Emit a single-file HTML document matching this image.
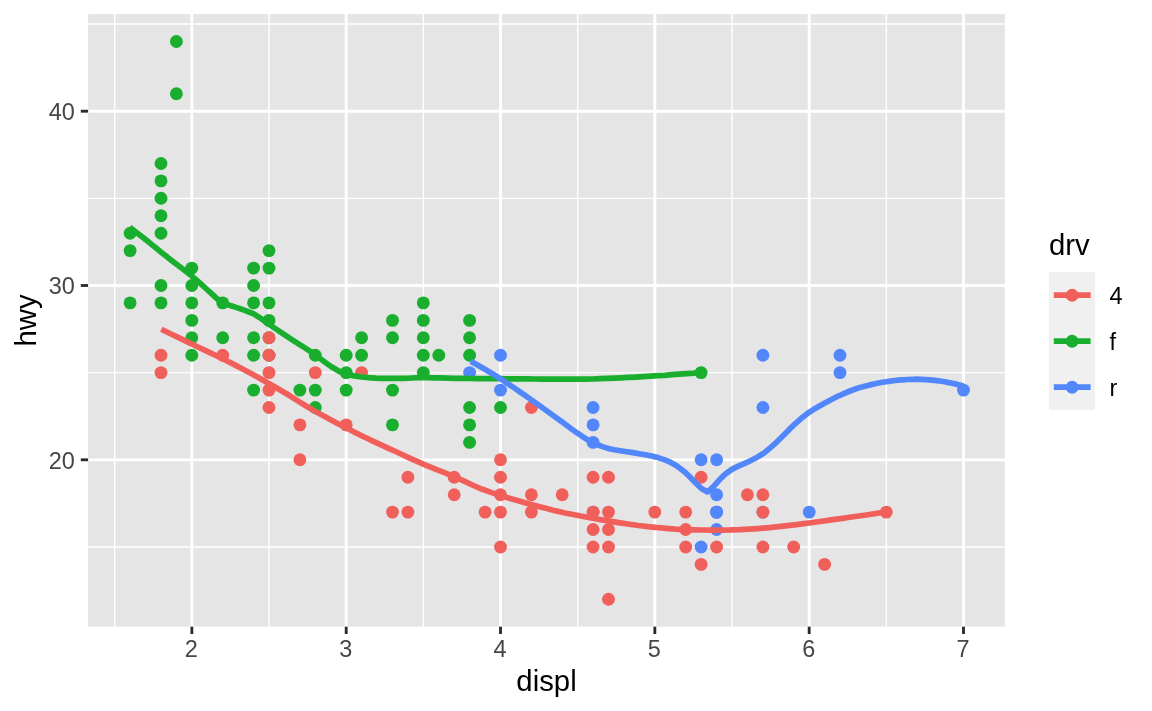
<!DOCTYPE html>
<html><head><meta charset="utf-8"><title>displ vs hwy by drv</title>
<style>
html,body{margin:0;padding:0;background:#fff;}
svg{display:block;}
text{font-family:"Liberation Sans",Arial,Helvetica,sans-serif;}
.tick{font-size:23.47px;fill:#464646;}
.title{font-size:29.33px;fill:#000;}
.key{font-size:23.47px;fill:#000;}
</style></head><body>
<svg width="1152" height="711" viewBox="0 0 1152 711">
<rect x="0" y="0" width="1152" height="711" fill="#fff"/>
<rect x="88.1" y="14.05" width="916.8" height="612.6" fill="#E5E5E5"/>
<g stroke="#fff" stroke-width="1.42" fill="none" opacity="1">
<line x1="88.1" x2="1004.87" y1="546.95" y2="546.95"/>
<line x1="88.1" x2="1004.87" y1="372.65" y2="372.65"/>
<line x1="88.1" x2="1004.87" y1="198.35" y2="198.35"/>
<line x1="88.1" x2="1004.87" y1="24.05" y2="24.05"/>
<line y1="14.05" y2="626.67" x1="114.68" x2="114.68"/>
<line y1="14.05" y2="626.67" x1="269.01" x2="269.01"/>
<line y1="14.05" y2="626.67" x1="423.35" x2="423.35"/>
<line y1="14.05" y2="626.67" x1="577.68" x2="577.68"/>
<line y1="14.05" y2="626.67" x1="732.01" x2="732.01"/>
<line y1="14.05" y2="626.67" x1="886.34" x2="886.34"/>
</g><g stroke="#fff" stroke-width="2.85" fill="none">
<line x1="88.1" x2="1004.87" y1="459.80" y2="459.80"/>
<line x1="88.1" x2="1004.87" y1="285.50" y2="285.50"/>
<line x1="88.1" x2="1004.87" y1="111.20" y2="111.20"/>
<line y1="14.05" y2="626.67" x1="191.85" x2="191.85"/>
<line y1="14.05" y2="626.67" x1="346.18" x2="346.18"/>
<line y1="14.05" y2="626.67" x1="500.51" x2="500.51"/>
<line y1="14.05" y2="626.67" x1="654.84" x2="654.84"/>
<line y1="14.05" y2="626.67" x1="809.17" x2="809.17"/>
<line y1="14.05" y2="626.67" x1="963.50" x2="963.50"/>
</g>
<g><circle cx="593.1" cy="512.1" r="6.45" fill="#5286FB"/><circle cx="716.6" cy="512.1" r="6.45" fill="#F15F5B"/><circle cx="762.9" cy="512.1" r="6.45" fill="#5286FB"/></g>
<g fill="#19AE2E">
<circle cx="130.1" cy="233.2" r="6.45"/>
<circle cx="130.1" cy="250.6" r="6.45"/>
<circle cx="130.1" cy="302.9" r="6.45"/>
<circle cx="161.0" cy="163.5" r="6.45"/>
<circle cx="161.0" cy="180.9" r="6.45"/>
<circle cx="161.0" cy="198.3" r="6.45"/>
<circle cx="161.0" cy="215.8" r="6.45"/>
<circle cx="161.0" cy="233.2" r="6.45"/>
<circle cx="161.0" cy="285.5" r="6.45"/>
<circle cx="161.0" cy="302.9" r="6.45"/>
<circle cx="176.4" cy="41.5" r="6.45"/>
<circle cx="176.4" cy="93.8" r="6.45"/>
<circle cx="191.8" cy="268.1" r="6.45"/>
<circle cx="191.8" cy="285.5" r="6.45"/>
<circle cx="191.8" cy="302.9" r="6.45"/>
<circle cx="191.8" cy="320.4" r="6.45"/>
<circle cx="191.8" cy="337.8" r="6.45"/>
<circle cx="191.8" cy="355.2" r="6.45"/>
<circle cx="222.7" cy="302.9" r="6.45"/>
<circle cx="222.7" cy="337.8" r="6.45"/>
<circle cx="253.6" cy="268.1" r="6.45"/>
<circle cx="253.6" cy="285.5" r="6.45"/>
<circle cx="253.6" cy="302.9" r="6.45"/>
<circle cx="253.6" cy="337.8" r="6.45"/>
<circle cx="253.6" cy="355.2" r="6.45"/>
<circle cx="253.6" cy="390.1" r="6.45"/>
<circle cx="269.0" cy="250.6" r="6.45"/>
<circle cx="269.0" cy="268.1" r="6.45"/>
<circle cx="269.0" cy="302.9" r="6.45"/>
<circle cx="269.0" cy="320.4" r="6.45"/>
<circle cx="269.0" cy="337.8" r="6.45"/>
<circle cx="269.0" cy="355.2" r="6.45"/>
<circle cx="299.9" cy="390.1" r="6.45"/>
<circle cx="315.3" cy="355.2" r="6.45"/>
<circle cx="315.3" cy="390.1" r="6.45"/>
<circle cx="315.3" cy="407.5" r="6.45"/>
<circle cx="346.2" cy="355.2" r="6.45"/>
<circle cx="346.2" cy="372.6" r="6.45"/>
<circle cx="346.2" cy="390.1" r="6.45"/>
<circle cx="361.6" cy="337.8" r="6.45"/>
<circle cx="361.6" cy="355.2" r="6.45"/>
<circle cx="392.5" cy="320.4" r="6.45"/>
<circle cx="392.5" cy="337.8" r="6.45"/>
<circle cx="392.5" cy="390.1" r="6.45"/>
<circle cx="392.5" cy="424.9" r="6.45"/>
<circle cx="423.3" cy="302.9" r="6.45"/>
<circle cx="423.3" cy="320.4" r="6.45"/>
<circle cx="423.3" cy="337.8" r="6.45"/>
<circle cx="423.3" cy="355.2" r="6.45"/>
<circle cx="423.3" cy="372.6" r="6.45"/>
<circle cx="438.8" cy="355.2" r="6.45"/>
<circle cx="469.6" cy="320.4" r="6.45"/>
<circle cx="469.6" cy="337.8" r="6.45"/>
<circle cx="469.6" cy="355.2" r="6.45"/>
<circle cx="469.6" cy="407.5" r="6.45"/>
<circle cx="469.6" cy="424.9" r="6.45"/>
<circle cx="469.6" cy="442.4" r="6.45"/>
<circle cx="500.5" cy="407.5" r="6.45"/>
<circle cx="701.1" cy="372.6" r="6.45"/>
</g>
<g fill="#5286FB">
<circle cx="469.6" cy="372.6" r="6.45"/>
<circle cx="500.5" cy="355.2" r="6.45"/>
<circle cx="500.5" cy="390.1" r="6.45"/>
<circle cx="593.1" cy="407.5" r="6.45"/>
<circle cx="593.1" cy="424.9" r="6.45"/>
<circle cx="593.1" cy="442.4" r="6.45"/>
<circle cx="701.1" cy="459.8" r="6.45"/>
<circle cx="701.1" cy="547.0" r="6.45"/>
<circle cx="716.6" cy="459.8" r="6.45"/>
<circle cx="716.6" cy="494.7" r="6.45"/>
<circle cx="716.6" cy="512.1" r="6.45"/>
<circle cx="716.6" cy="529.5" r="6.45"/>
<circle cx="762.9" cy="355.2" r="6.45"/>
<circle cx="762.9" cy="407.5" r="6.45"/>
<circle cx="809.2" cy="512.1" r="6.45"/>
<circle cx="840.0" cy="355.2" r="6.45"/>
<circle cx="840.0" cy="372.6" r="6.45"/>
<circle cx="963.5" cy="390.1" r="6.45"/>
</g>
<g fill="#F15F5B">
<circle cx="161.0" cy="355.2" r="6.45"/>
<circle cx="161.0" cy="372.6" r="6.45"/>
<circle cx="222.7" cy="355.2" r="6.45"/>
<circle cx="269.0" cy="337.8" r="6.45"/>
<circle cx="269.0" cy="355.2" r="6.45"/>
<circle cx="269.0" cy="372.6" r="6.45"/>
<circle cx="269.0" cy="390.1" r="6.45"/>
<circle cx="269.0" cy="407.5" r="6.45"/>
<circle cx="299.9" cy="424.9" r="6.45"/>
<circle cx="299.9" cy="459.8" r="6.45"/>
<circle cx="315.3" cy="372.6" r="6.45"/>
<circle cx="346.2" cy="424.9" r="6.45"/>
<circle cx="361.6" cy="372.6" r="6.45"/>
<circle cx="392.5" cy="512.1" r="6.45"/>
<circle cx="407.9" cy="477.2" r="6.45"/>
<circle cx="407.9" cy="512.1" r="6.45"/>
<circle cx="454.2" cy="477.2" r="6.45"/>
<circle cx="454.2" cy="494.7" r="6.45"/>
<circle cx="485.1" cy="512.1" r="6.45"/>
<circle cx="500.5" cy="459.8" r="6.45"/>
<circle cx="500.5" cy="477.2" r="6.45"/>
<circle cx="500.5" cy="494.7" r="6.45"/>
<circle cx="500.5" cy="512.1" r="6.45"/>
<circle cx="500.5" cy="547.0" r="6.45"/>
<circle cx="531.4" cy="407.5" r="6.45"/>
<circle cx="531.4" cy="494.7" r="6.45"/>
<circle cx="531.4" cy="512.1" r="6.45"/>
<circle cx="562.2" cy="494.7" r="6.45"/>
<circle cx="593.1" cy="477.2" r="6.45"/>
<circle cx="593.1" cy="512.1" r="6.45"/>
<circle cx="593.1" cy="529.5" r="6.45"/>
<circle cx="593.1" cy="547.0" r="6.45"/>
<circle cx="608.5" cy="477.2" r="6.45"/>
<circle cx="608.5" cy="512.1" r="6.45"/>
<circle cx="608.5" cy="529.5" r="6.45"/>
<circle cx="608.5" cy="547.0" r="6.45"/>
<circle cx="608.5" cy="599.2" r="6.45"/>
<circle cx="654.8" cy="512.1" r="6.45"/>
<circle cx="685.7" cy="512.1" r="6.45"/>
<circle cx="685.7" cy="529.5" r="6.45"/>
<circle cx="685.7" cy="547.0" r="6.45"/>
<circle cx="701.1" cy="477.2" r="6.45"/>
<circle cx="701.1" cy="564.4" r="6.45"/>
<circle cx="716.6" cy="547.0" r="6.45"/>
<circle cx="747.4" cy="494.7" r="6.45"/>
<circle cx="762.9" cy="494.7" r="6.45"/>
<circle cx="762.9" cy="512.1" r="6.45"/>
<circle cx="762.9" cy="547.0" r="6.45"/>
<circle cx="793.7" cy="547.0" r="6.45"/>
<circle cx="824.6" cy="564.4" r="6.45"/>
<circle cx="886.3" cy="512.1" r="6.45"/>
</g>
<g fill="#5286FB"><circle cx="716.6" cy="512.1" r="6.45"/></g>
<g fill="none" stroke-width="5.7" stroke-linejoin="round" stroke-linecap="butt">
<polyline stroke="#F15F5B" points="161.3,329.2 170.5,333.7 179.7,338.1 188.9,342.6 191.6,343.9 198.0,347.0 207.2,351.3 216.4,355.7 222.5,358.7 225.6,360.2 234.8,364.9 243.9,369.7 253.1,374.6 253.4,374.7 262.3,379.7 268.8,383.4 271.5,385.0 280.6,390.2 289.8,395.7 289.9,395.8 299.0,401.6 299.7,402.1 308.2,407.3 315.1,411.3 317.3,412.6 326.5,417.6 335.7,422.5 344.9,427.3 346.0,427.8 354.1,432.0 363.2,436.5 369.1,439.3 372.4,440.9 381.6,445.1 390.8,449.3 392.3,450.0 399.9,453.5 409.1,457.8 418.3,461.9 423.2,464.1 427.5,465.9 436.6,469.6 445.8,473.2 454.0,476.6 455.0,477.0 464.2,481.2 473.4,485.5 480.0,488.3 482.5,489.3 491.7,492.6 500.4,495.4 500.9,495.6 510.1,498.5 519.2,501.1 528.4,503.7 531.2,504.5 537.6,506.2 546.8,508.6 555.9,510.9 562.1,512.3 565.1,513.0 574.3,514.8 583.5,516.5 592.7,518.2 593.0,518.3 601.8,519.9 608.4,521.0 611.0,521.4 620.2,522.9 629.4,524.2 638.5,525.5 647.7,526.6 654.7,527.3 656.9,527.5 666.1,528.4 675.2,529.2 684.4,529.7 685.6,529.8 693.6,529.9 702.8,530.0 712.0,530.1 716.5,530.1 721.1,530.1 730.3,530.0 731.9,529.9 739.5,529.7 748.7,529.2 757.8,528.6 762.8,528.2 767.0,527.8 776.2,526.9 785.4,525.9 793.7,524.9 794.5,524.8 803.7,523.7 809.1,523.0 812.9,522.5 822.1,521.2 831.2,519.9 840.4,518.6 842.8,518.3 849.6,517.3 858.8,516.0 868.0,514.7 877.1,513.3 886.3,512.0"/>
<polyline stroke="#19AE2E" points="129.8,227.3 137.1,232.9 144.3,238.6 148.1,241.6 151.5,244.4 158.8,250.3 160.7,251.9 166.0,256.1 173.2,261.8 176.2,264.1 180.5,267.3 187.7,272.7 191.6,275.8 194.9,278.6 202.2,285.2 207.0,289.5 209.4,291.6 216.6,298.3 222.5,302.4 223.8,303.1 231.1,305.8 238.3,308.1 239.5,308.5 245.5,310.6 252.8,313.5 253.4,313.7 260.0,317.8 267.2,323.1 268.8,324.2 274.5,328.0 281.7,332.8 288.9,337.6 289.2,337.8 296.1,342.3 303.4,346.9 310.6,351.6 315.1,354.7 317.8,356.7 325.1,362.3 331.3,366.7 332.3,367.3 339.5,371.5 346.0,374.2 346.8,374.4 354.0,375.9 361.2,377.0 361.4,377.0 368.5,377.7 375.7,378.2 380.6,378.4 382.9,378.4 390.1,378.4 397.4,378.4 400.0,378.4 404.6,378.3 411.8,378.0 419.1,377.7 423.2,377.7 426.3,377.7 433.5,377.8 440.8,377.9 448.0,378.1 455.2,378.3 462.4,378.4 469.5,378.5 469.7,378.5 476.9,378.6 484.1,378.6 491.4,378.7 498.6,378.7 500.4,378.7 505.8,378.8 513.1,378.8 520.3,378.9 527.5,378.9 534.8,379.0 542.0,379.1 549.2,379.1 556.4,379.2 563.7,379.2 570.9,379.2 577.5,379.2 578.1,379.2 585.4,379.2 592.6,379.0 599.8,378.7 607.1,378.4 614.3,378.1 621.5,377.8 623.9,377.7 628.7,377.4 636.0,377.1 643.2,376.7 650.4,376.2 654.7,375.9 657.7,375.7 664.9,375.3 672.1,374.7 679.4,374.2 686.6,373.6 693.8,373.1 701.1,372.4"/>
<polyline stroke="#5286FB" points="470.7,361.3 477.0,364.7 483.2,368.3 489.4,372.0 495.7,375.8 500.4,378.7 501.9,379.7 508.1,383.8 514.4,388.0 520.6,392.4 526.9,396.7 531.2,399.8 533.1,401.1 539.3,405.5 545.6,410.0 551.8,414.5 558.0,419.0 562.1,421.9 564.3,423.5 570.5,428.2 576.8,432.7 577.5,433.2 583.0,436.9 589.2,440.9 593.0,442.8 595.5,443.9 601.7,446.4 607.9,448.4 609.4,448.7 614.2,449.8 620.4,450.8 626.7,451.7 632.9,452.6 635.8,453.1 639.1,453.7 645.4,454.8 651.6,456.0 654.7,456.8 657.9,457.6 664.1,459.6 670.2,462.2 670.3,462.2 676.6,465.8 682.8,470.5 685.6,472.8 689.0,476.0 693.3,480.5 695.3,482.5 701.1,488.3 701.5,488.6 707.4,491.9 707.8,491.9 714.0,486.0 716.5,483.1 720.2,479.0 724.4,474.9 726.5,473.1 731.9,469.3 732.7,468.9 738.9,465.9 745.2,463.2 747.4,462.2 751.4,460.2 757.7,456.9 762.8,453.8 763.9,453.1 770.1,448.0 776.4,442.3 780.6,438.3 782.6,436.3 788.8,429.9 794.1,424.7 795.1,423.8 801.3,418.3 807.6,413.4 809.1,412.3 813.8,409.3 820.0,405.8 823.9,403.6 826.3,402.3 832.5,399.0 838.7,395.8 840.0,395.3 845.0,393.1 851.2,390.5 857.5,388.3 859.1,387.8 863.7,386.5 869.9,384.9 876.2,383.5 882.4,382.3 886.3,381.7 888.6,381.3 894.9,380.5 901.1,379.9 903.0,379.8 907.4,379.5 913.6,379.3 917.2,379.2 919.8,379.3 926.1,379.6 932.3,380.1 932.6,380.1 938.5,380.8 944.8,381.8 948.8,382.6 951.0,383.0 957.3,384.4 963.5,386.0"/>
</g>
<g stroke="#2b2b2b" stroke-width="2.85">
<line x1="80.8" x2="88.1" y1="459.80" y2="459.80"/>
<line x1="80.8" x2="88.1" y1="285.50" y2="285.50"/>
<line x1="80.8" x2="88.1" y1="111.20" y2="111.20"/>
<line y1="626.67" y2="634.0" x1="191.85" x2="191.85"/>
<line y1="626.67" y2="634.0" x1="346.18" x2="346.18"/>
<line y1="626.67" y2="634.0" x1="500.51" x2="500.51"/>
<line y1="626.67" y2="634.0" x1="654.84" x2="654.84"/>
<line y1="626.67" y2="634.0" x1="809.17" x2="809.17"/>
<line y1="626.67" y2="634.0" x1="963.50" x2="963.50"/>
</g>
<text class="tick" x="74.9" y="468.6" text-anchor="end">20</text>
<text class="tick" x="74.9" y="294.3" text-anchor="end">30</text>
<text class="tick" x="74.9" y="120.0" text-anchor="end">40</text>
<text class="tick" x="191.3" y="657" text-anchor="middle">2</text>
<text class="tick" x="345.7" y="657" text-anchor="middle">3</text>
<text class="tick" x="500.0" y="657" text-anchor="middle">4</text>
<text class="tick" x="654.3" y="657" text-anchor="middle">5</text>
<text class="tick" x="808.7" y="657" text-anchor="middle">6</text>
<text class="tick" x="963.0" y="657" text-anchor="middle">7</text>
<text class="title" x="546.5" y="690.6" text-anchor="middle">displ</text>
<text class="title" transform="translate(35.7,320.4) rotate(-90)" text-anchor="middle">hwy</text>
<text class="title" x="1048.9" y="255">drv</text>
<rect x="1048.9" y="272" width="46" height="138" fill="#F0F0F0"/>
<line x1="1053.8" x2="1090.6" y1="295.2" y2="295.2" stroke="#F15F5B" stroke-width="5.7"/>
<circle cx="1072.1" cy="295.2" r="6.45" fill="#F15F5B"/>
<text class="key" x="1109.5" y="303.7">4</text>
<line x1="1053.8" x2="1090.6" y1="341.2" y2="341.2" stroke="#19AE2E" stroke-width="5.7"/>
<circle cx="1072.1" cy="341.2" r="6.45" fill="#19AE2E"/>
<text class="key" x="1109.5" y="349.7">f</text>
<line x1="1053.8" x2="1090.6" y1="387.2" y2="387.2" stroke="#5286FB" stroke-width="5.7"/>
<circle cx="1072.1" cy="387.2" r="6.45" fill="#5286FB"/>
<text class="key" x="1109.5" y="395.7">r</text>
</svg></body></html>
